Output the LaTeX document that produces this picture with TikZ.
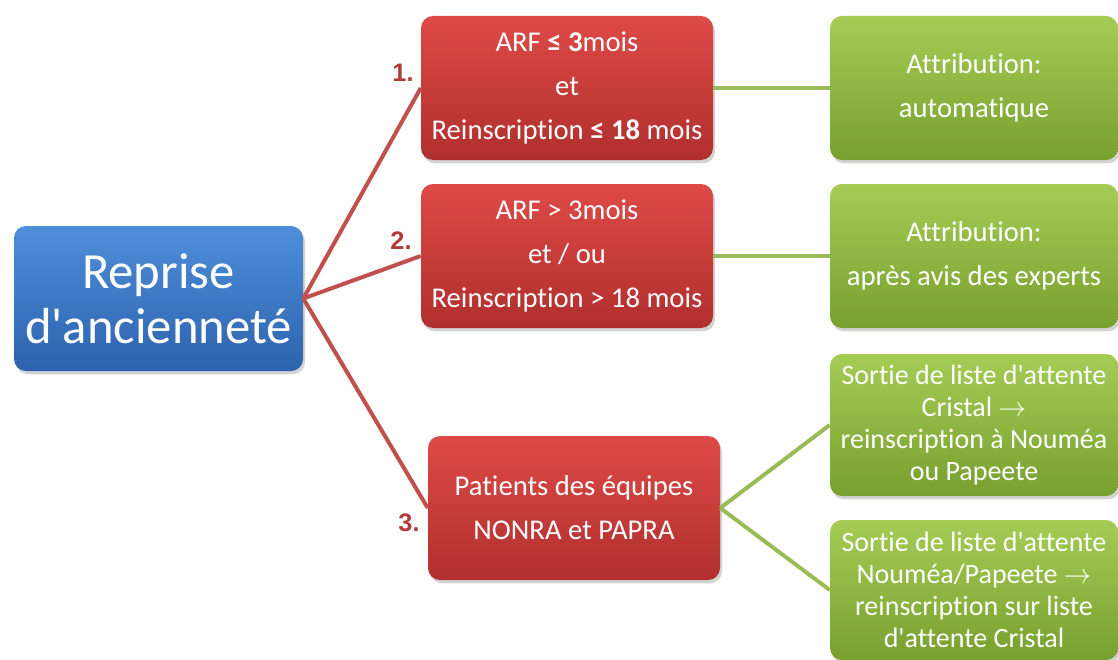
\documentclass[tikz,border=0pt]{standalone}
\usepackage{fontspec}
\setmainfont{Carlito}[RawFeature={-liga}]
\newfontfamily\numfont{Liberation Sans}
\usetikzlibrary{shadows}
\definecolor{redtop}{HTML}{DE4A47}
\definecolor{redbot}{HTML}{B02F2D}
\definecolor{bluetop}{HTML}{4F8FDA}
\definecolor{bluebot}{HTML}{2C62AE}
\definecolor{greentop}{HTML}{A5CC55}
\definecolor{greenbot}{HTML}{78A02F}
\definecolor{redline}{HTML}{C0504D}
\definecolor{greenline}{HTML}{9BBB59}
\definecolor{numred}{HTML}{B23A38}
\newcommand{\apos}{\textquotesingle}
\tikzset{
  card/.style={rounded corners=9pt, text=white, align=center, inner sep=1pt,
    drop shadow={shadow xshift=1.5pt, shadow yshift=-2.5pt, opacity=0.35}},
  rootbox/.style={card, top color=bluetop, bottom color=bluebot,
    minimum width=216.75pt, minimum height=108.75pt,
    font=\fontsize{38}{41}\selectfont},
  condbox/.style={card, top color=redtop, bottom color=redbot,
    minimum width=219pt, minimum height=108pt,
    font=\fontsize{21.5}{33}\selectfont},
  resbox/.style={card, top color=greentop, bottom color=greenbot,
    minimum width=216pt, minimum height=108pt,
    font=\fontsize{21.5}{32.5}\selectfont},
  longbox/.style={resbox, font=\fontsize{21}{24}\selectfont},
  numlabel/.style={text=numred, font=\numfont\bfseries\fontsize{19}{22}\selectfont},
  redlink/.style={draw=redline, line width=3pt},
  greenlink/.style={draw=greenline, line width=3pt}
}
\begin{document}
\begin{tikzpicture}[x=0.75pt, y=-0.75pt]
  \useasboundingbox (0,0) rectangle (1118,660);
  \node[rootbox] (root) at (158.5,298.5) {Reprise\\d\apos ancienneté};
  \node[condbox] (cond1) at (567,88) {ARF \textbf{≤ 3}mois\\et\\Reinscription \textbf{≤ 18} mois};
  \node[condbox] (cond2) at (567,256) {ARF > 3mois\\et / ou\\Reinscription > 18 mois};
  \node[condbox] (cond3) at (574,508) {Patients des équipes\\NONRA et PAPRA};
  \node[resbox] (res1) at (974,88) {Attribution:\\automatique};
  \node[resbox] (res2) at (974,256) {Attribution:\\après avis des experts};
  \node[longbox, minimum height=106.5pt] (res3) at (974,425)
    {Sortie de liste d\apos attente\\Cristal $\rightarrow$\\reinscription à Nouméa\\ou Papeete};
  \node[longbox, minimum height=105pt] (res4) at (974,590)
    {Sortie de liste d\apos attente\\Nouméa/Papeete $\rightarrow$\\reinscription sur liste\\d\apos attente Cristal};
  \node[numlabel] (num1) at (403,73) {1.};
  \node[numlabel] (num2) at (401,241) {2.};
  \node[numlabel] (num3) at (409,523) {3.};
  \begin{scope}[redlink]
    \draw (root.east) -- (cond1.west);
    \draw (root.east) -- (cond2.west);
    \draw (root.east) -- (cond3.west);
  \end{scope}
  \begin{scope}[greenlink]
    \draw (cond1.east) -- (res1.west);
    \draw (cond2.east) -- (res2.west);
    \draw (cond3.east) -- (res3.west);
    \draw (cond3.east) -- (res4.west);
  \end{scope}
\end{tikzpicture}
\end{document}
